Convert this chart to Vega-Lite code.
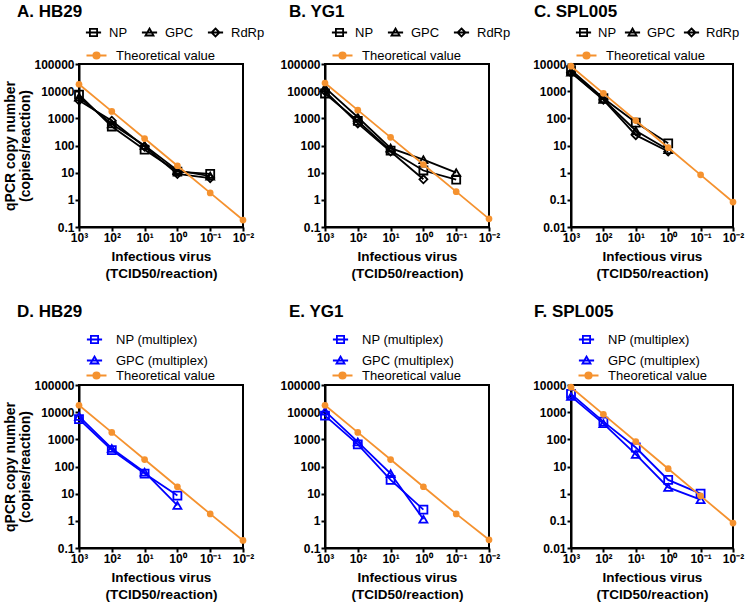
{
  "$schema": "https://vega.github.io/schema/vega-lite/v6.json",
  "padding": {"left": 2, "top": 2, "right": 2, "bottom": 2},
  "background": "white",
  "datasets": {
    "d": [
      {"p":"A","s":"NP","x":1000,"y":7500},{"p":"A","s":"NP","x":100,"y":500},{"p":"A","s":"NP","x":10,"y":70},{"p":"A","s":"NP","x":1,"y":11},{"p":"A","s":"NP","x":0.1,"y":9},
      {"p":"A","s":"GPC","x":1000,"y":6000},{"p":"A","s":"GPC","x":100,"y":620},{"p":"A","s":"GPC","x":10,"y":100},{"p":"A","s":"GPC","x":1,"y":12},{"p":"A","s":"GPC","x":0.1,"y":7.5},
      {"p":"A","s":"RdRp","x":1000,"y":4500},{"p":"A","s":"RdRp","x":100,"y":820},{"p":"A","s":"RdRp","x":10,"y":90},{"p":"A","s":"RdRp","x":1,"y":9},{"p":"A","s":"RdRp","x":0.1,"y":6.3},
      {"p":"A","s":"Theoretical value","x":1000,"y":18000},{"p":"A","s":"Theoretical value","x":100,"y":1800},{"p":"A","s":"Theoretical value","x":10,"y":180},{"p":"A","s":"Theoretical value","x":1,"y":18},{"p":"A","s":"Theoretical value","x":0.1,"y":1.8},{"p":"A","s":"Theoretical value","x":0.01,"y":0.18},
      {"p":"B","s":"NP","x":1000,"y":8200},{"p":"B","s":"NP","x":100,"y":800},{"p":"B","s":"NP","x":10,"y":65},{"p":"B","s":"NP","x":1,"y":12},{"p":"B","s":"NP","x":0.1,"y":5.5},
      {"p":"B","s":"GPC","x":1000,"y":13500},{"p":"B","s":"GPC","x":100,"y":1100},{"p":"B","s":"GPC","x":10,"y":80},{"p":"B","s":"GPC","x":1,"y":30},{"p":"B","s":"GPC","x":0.1,"y":10},
      {"p":"B","s":"RdRp","x":1000,"y":10000},{"p":"B","s":"RdRp","x":100,"y":650},{"p":"B","s":"RdRp","x":10,"y":60},{"p":"B","s":"RdRp","x":1,"y":5.7},
      {"p":"B","s":"Theoretical value","x":1000,"y":20000},{"p":"B","s":"Theoretical value","x":100,"y":2000},{"p":"B","s":"Theoretical value","x":10,"y":200},{"p":"B","s":"Theoretical value","x":1,"y":20},{"p":"B","s":"Theoretical value","x":0.1,"y":2},{"p":"B","s":"Theoretical value","x":0.01,"y":0.2},
      {"p":"C","s":"NP","x":1000,"y":6000},{"p":"C","s":"NP","x":100,"y":550},{"p":"C","s":"NP","x":10,"y":70},{"p":"C","s":"NP","x":1,"y":12},
      {"p":"C","s":"GPC","x":1000,"y":5000},{"p":"C","s":"GPC","x":100,"y":500},{"p":"C","s":"GPC","x":10,"y":35},{"p":"C","s":"GPC","x":1,"y":7},
      {"p":"C","s":"RdRp","x":1000,"y":4800},{"p":"C","s":"RdRp","x":100,"y":480},{"p":"C","s":"RdRp","x":10,"y":24},{"p":"C","s":"RdRp","x":1,"y":6},
      {"p":"C","s":"Theoretical value","x":1000,"y":8300},{"p":"C","s":"Theoretical value","x":100,"y":830},{"p":"C","s":"Theoretical value","x":10,"y":83},{"p":"C","s":"Theoretical value","x":1,"y":8.3},{"p":"C","s":"Theoretical value","x":0.1,"y":0.83},{"p":"C","s":"Theoretical value","x":0.01,"y":0.083},
      {"p":"D","s":"NP (multiplex)","x":1000,"y":5500},{"p":"D","s":"NP (multiplex)","x":100,"y":400},{"p":"D","s":"NP (multiplex)","x":10,"y":55},{"p":"D","s":"NP (multiplex)","x":1,"y":8.5},
      {"p":"D","s":"GPC (multiplex)","x":1000,"y":7000},{"p":"D","s":"GPC (multiplex)","x":100,"y":460},{"p":"D","s":"GPC (multiplex)","x":10,"y":62},{"p":"D","s":"GPC (multiplex)","x":1,"y":3.7},
      {"p":"D","s":"Theoretical value","x":1000,"y":18000},{"p":"D","s":"Theoretical value","x":100,"y":1800},{"p":"D","s":"Theoretical value","x":10,"y":180},{"p":"D","s":"Theoretical value","x":1,"y":18},{"p":"D","s":"Theoretical value","x":0.1,"y":1.8},{"p":"D","s":"Theoretical value","x":0.01,"y":0.19},
      {"p":"E","s":"NP (multiplex)","x":1000,"y":7500},{"p":"E","s":"NP (multiplex)","x":100,"y":650},{"p":"E","s":"NP (multiplex)","x":10,"y":32},{"p":"E","s":"NP (multiplex)","x":1,"y":2.6},
      {"p":"E","s":"GPC (multiplex)","x":1000,"y":11000},{"p":"E","s":"GPC (multiplex)","x":100,"y":800},{"p":"E","s":"GPC (multiplex)","x":10,"y":55},{"p":"E","s":"GPC (multiplex)","x":1,"y":1.15},
      {"p":"E","s":"Theoretical value","x":1000,"y":18000},{"p":"E","s":"Theoretical value","x":100,"y":1800},{"p":"E","s":"Theoretical value","x":10,"y":180},{"p":"E","s":"Theoretical value","x":1,"y":18},{"p":"E","s":"Theoretical value","x":0.1,"y":1.8},{"p":"E","s":"Theoretical value","x":0.01,"y":0.2},
      {"p":"F","s":"NP (multiplex)","x":1000,"y":4700},{"p":"F","s":"NP (multiplex)","x":100,"y":450},{"p":"F","s":"NP (multiplex)","x":10,"y":50},{"p":"F","s":"NP (multiplex)","x":1,"y":3.2},{"p":"F","s":"NP (multiplex)","x":0.1,"y":1.0},
      {"p":"F","s":"GPC (multiplex)","x":1000,"y":3800},{"p":"F","s":"GPC (multiplex)","x":100,"y":380},{"p":"F","s":"GPC (multiplex)","x":10,"y":28},{"p":"F","s":"GPC (multiplex)","x":1,"y":1.7},{"p":"F","s":"GPC (multiplex)","x":0.1,"y":0.6},
      {"p":"F","s":"Theoretical value","x":1000,"y":8300},{"p":"F","s":"Theoretical value","x":100,"y":830},{"p":"F","s":"Theoretical value","x":10,"y":83},{"p":"F","s":"Theoretical value","x":1,"y":8.3},{"p":"F","s":"Theoretical value","x":0.1,"y":0.83},{"p":"F","s":"Theoretical value","x":0.01,"y":0.083}
    ]
  },
  "data": {"name": "d"},
  "columns": 3,
  "bounds": "flush",
  "spacing": {"row": 158, "column": 82},
  "concat": [
    {
      "title": {"text": "A. HB29", "dx": -62, "offset": 5},
      "width": 164, "height": 163,
      "transform": [{"filter": "datum.p == 'A'"}],
      "resolve": {"scale": {"color": "independent"}},
      "layer": [
        {"transform": [{"filter": "datum.s != 'Theoretical value'"}],
         "layer": [
          {"mark": {"type": "line", "strokeWidth": 1.8, "color": "#000000"},
           "encoding": {
             "x": {"field": "x", "type": "quantitative", "scale": {"type": "log", "domain": [0.01, 1000], "reverse": true, "nice": false}, "axis": {"values": [1000,100,10,1,0.1,0.01], "labelExpr": "'10' + ['⁻²','⁻¹','⁰','¹','²','³'][round(log(datum.value)/LN10)+2]", "title": ["Infectious virus", "(TCID50/reaction)"]}},
             "y": {"field": "y", "type": "quantitative", "scale": {"type": "log", "domain": [0.1, 100000], "nice": false}, "axis": {"values": [0.1,1,10,100,1000,10000,100000], "format": "~g", "title": ["qPCR copy number", "(copies/reaction)"]}},
             "detail": {"field": "s"}}},
          {"mark": {"type": "point", "filled": false, "strokeWidth": 1.8, "size": 64, "opacity": 1},
           "encoding": {
             "x": {"field": "x", "type": "quantitative"},
             "y": {"field": "y", "type": "quantitative"},
             "shape": {"condition": [{"test": "datum.s == 'GPC'", "value": "triangle-up"}, {"test": "datum.s == 'RdRp'", "value": "diamond"}], "value": "square"},
             "color": {"field": "s", "type": "nominal", "scale": {"domain": ["NP","GPC","RdRp"], "range": ["#000000","#000000","#000000"]},
               "legend": {"title": null, "orient": "none", "legendX": 8, "legendY": -38, "columns": 3, "direction": "horizontal", "gridAlign": "none", "columnPadding": 10, "labelOffset": 9,
                 "encoding": {"symbols": {"shape": {"value": {"expr": "datum.value == 'NP' ? 'M-1.9,0H1.9M-0.9,-0.9H0.9V0.9H-0.9Z' : datum.value == 'GPC' ? 'M-1.9,0H1.9M0,-1L1,0.75H-1Z' : 'M-1.9,0H1.9M0,-1L1,0L0,1L-1,0Z'"}}, "fill": {"value": "transparent"}, "strokeWidth": {"value": 1.8}}}}}}}
         ]},
        {"transform": [{"filter": "datum.s == 'Theoretical value'"}],
         "layer": [
          {"mark": {"type": "line", "strokeWidth": 1.8, "color": "#F5922F"},
           "encoding": {"x": {"field": "x", "type": "quantitative"}, "y": {"field": "y", "type": "quantitative"}}},
          {"mark": {"type": "point", "filled": true, "shape": "circle", "size": 45, "opacity": 1},
           "encoding": {"x": {"field": "x", "type": "quantitative"}, "y": {"field": "y", "type": "quantitative"},
             "color": {"field": "s", "type": "nominal", "scale": {"range": ["#F5922F"]},
               "legend": {"title": null, "orient": "none", "legendX": 11, "legendY": -15, "labelOffset": 13,
                 "encoding": {"symbols": {"shape": {"value": "M-2.5,0H2.5M-0.8,0A0.8,0.8 0 1 0 0.8,0A0.8,0.8 0 1 0 -0.8,0"}, "stroke": {"value": "#F5922F"}, "strokeWidth": {"value": 1.8}}}}}}}
         ]}
      ]
    },
    {
      "title": {"text": "B. YG1", "dx": -36, "offset": 5},
      "width": 164, "height": 163,
      "transform": [{"filter": "datum.p == 'B'"}],
      "resolve": {"scale": {"color": "independent"}},
      "layer": [
        {"transform": [{"filter": "datum.s != 'Theoretical value'"}],
         "layer": [
          {"mark": {"type": "line", "strokeWidth": 1.8, "color": "#000000"},
           "encoding": {
             "x": {"field": "x", "type": "quantitative", "scale": {"type": "log", "domain": [0.01, 1000], "reverse": true, "nice": false}, "axis": {"values": [1000,100,10,1,0.1,0.01], "labelExpr": "'10' + ['⁻²','⁻¹','⁰','¹','²','³'][round(log(datum.value)/LN10)+2]", "title": ["Infectious virus", "(TCID50/reaction)"]}},
             "y": {"field": "y", "type": "quantitative", "scale": {"type": "log", "domain": [0.1, 100000], "nice": false}, "axis": {"values": [0.1,1,10,100,1000,10000,100000], "format": "~g", "title": null}},
             "detail": {"field": "s"}}},
          {"mark": {"type": "point", "filled": false, "strokeWidth": 1.8, "size": 64, "opacity": 1},
           "encoding": {
             "x": {"field": "x", "type": "quantitative"},
             "y": {"field": "y", "type": "quantitative"},
             "shape": {"condition": [{"test": "datum.s == 'GPC'", "value": "triangle-up"}, {"test": "datum.s == 'RdRp'", "value": "diamond"}], "value": "square"},
             "color": {"field": "s", "type": "nominal", "scale": {"domain": ["NP","GPC","RdRp"], "range": ["#000000","#000000","#000000"]},
               "legend": {"title": null, "orient": "none", "legendX": 8, "legendY": -38, "columns": 3, "direction": "horizontal", "gridAlign": "none", "columnPadding": 10, "labelOffset": 9,
                 "encoding": {"symbols": {"shape": {"value": {"expr": "datum.value == 'NP' ? 'M-1.9,0H1.9M-0.9,-0.9H0.9V0.9H-0.9Z' : datum.value == 'GPC' ? 'M-1.9,0H1.9M0,-1L1,0.75H-1Z' : 'M-1.9,0H1.9M0,-1L1,0L0,1L-1,0Z'"}}, "fill": {"value": "transparent"}, "strokeWidth": {"value": 1.8}}}}}}}
         ]},
        {"transform": [{"filter": "datum.s == 'Theoretical value'"}],
         "layer": [
          {"mark": {"type": "line", "strokeWidth": 1.8, "color": "#F5922F"},
           "encoding": {"x": {"field": "x", "type": "quantitative"}, "y": {"field": "y", "type": "quantitative"}}},
          {"mark": {"type": "point", "filled": true, "shape": "circle", "size": 45, "opacity": 1},
           "encoding": {"x": {"field": "x", "type": "quantitative"}, "y": {"field": "y", "type": "quantitative"},
             "color": {"field": "s", "type": "nominal", "scale": {"range": ["#F5922F"]},
               "legend": {"title": null, "orient": "none", "legendX": 11, "legendY": -15, "labelOffset": 13,
                 "encoding": {"symbols": {"shape": {"value": "M-2.5,0H2.5M-0.8,0A0.8,0.8 0 1 0 0.8,0A0.8,0.8 0 1 0 -0.8,0"}, "stroke": {"value": "#F5922F"}, "strokeWidth": {"value": 1.8}}}}}}}
         ]}
      ]
    },
    {
      "title": {"text": "C. SPL005", "dx": -37, "offset": 5},
      "width": 162, "height": 163,
      "transform": [{"filter": "datum.p == 'C'"}],
      "resolve": {"scale": {"color": "independent"}},
      "layer": [
        {"transform": [{"filter": "datum.s != 'Theoretical value'"}],
         "layer": [
          {"mark": {"type": "line", "strokeWidth": 1.8, "color": "#000000"},
           "encoding": {
             "x": {"field": "x", "type": "quantitative", "scale": {"type": "log", "domain": [0.01, 1000], "reverse": true, "nice": false}, "axis": {"values": [1000,100,10,1,0.1,0.01], "labelExpr": "'10' + ['⁻²','⁻¹','⁰','¹','²','³'][round(log(datum.value)/LN10)+2]", "title": ["Infectious virus", "(TCID50/reaction)"]}},
             "y": {"field": "y", "type": "quantitative", "scale": {"type": "log", "domain": [0.01, 10000], "nice": false}, "axis": {"values": [0.01,0.1,1,10,100,1000,10000], "format": "~g", "title": null}},
             "detail": {"field": "s"}}},
          {"mark": {"type": "point", "filled": false, "strokeWidth": 1.8, "size": 64, "opacity": 1},
           "encoding": {
             "x": {"field": "x", "type": "quantitative"},
             "y": {"field": "y", "type": "quantitative"},
             "shape": {"condition": [{"test": "datum.s == 'GPC'", "value": "triangle-up"}, {"test": "datum.s == 'RdRp'", "value": "diamond"}], "value": "square"},
             "color": {"field": "s", "type": "nominal", "scale": {"domain": ["NP","GPC","RdRp"], "range": ["#000000","#000000","#000000"]},
               "legend": {"title": null, "orient": "none", "legendX": 6, "legendY": -38, "columns": 3, "direction": "horizontal", "gridAlign": "none", "columnPadding": 4, "labelOffset": 8,
                 "encoding": {"symbols": {"shape": {"value": {"expr": "datum.value == 'NP' ? 'M-1.9,0H1.9M-0.9,-0.9H0.9V0.9H-0.9Z' : datum.value == 'GPC' ? 'M-1.9,0H1.9M0,-1L1,0.75H-1Z' : 'M-1.9,0H1.9M0,-1L1,0L0,1L-1,0Z'"}}, "fill": {"value": "transparent"}, "strokeWidth": {"value": 1.8}}}}}}}
         ]},
        {"transform": [{"filter": "datum.s == 'Theoretical value'"}],
         "layer": [
          {"mark": {"type": "line", "strokeWidth": 1.8, "color": "#F5922F"},
           "encoding": {"x": {"field": "x", "type": "quantitative"}, "y": {"field": "y", "type": "quantitative"}}},
          {"mark": {"type": "point", "filled": true, "shape": "circle", "size": 45, "opacity": 1},
           "encoding": {"x": {"field": "x", "type": "quantitative"}, "y": {"field": "y", "type": "quantitative"},
             "color": {"field": "s", "type": "nominal", "scale": {"range": ["#F5922F"]},
               "legend": {"title": null, "orient": "none", "legendX": 9, "legendY": -15, "labelOffset": 13,
                 "encoding": {"symbols": {"shape": {"value": "M-2.5,0H2.5M-0.8,0A0.8,0.8 0 1 0 0.8,0A0.8,0.8 0 1 0 -0.8,0"}, "stroke": {"value": "#F5922F"}, "strokeWidth": {"value": 1.8}}}}}}}
         ]}
      ]
    },
    {
      "title": {"text": "D. HB29", "dx": -62, "offset": 12},
      "width": 164, "height": 163,
      "transform": [{"filter": "datum.p == 'D'"}],
      "resolve": {"scale": {"color": "independent"}},
      "layer": [
        {"transform": [{"filter": "datum.s != 'Theoretical value'"}],
         "layer": [
          {"mark": {"type": "line", "strokeWidth": 1.8, "color": "#0000FF"},
           "encoding": {
             "x": {"field": "x", "type": "quantitative", "scale": {"type": "log", "domain": [0.01, 1000], "reverse": true, "nice": false}, "axis": {"values": [1000,100,10,1,0.1,0.01], "labelExpr": "'10' + ['⁻²','⁻¹','⁰','¹','²','³'][round(log(datum.value)/LN10)+2]", "title": ["Infectious virus", "(TCID50/reaction)"]}},
             "y": {"field": "y", "type": "quantitative", "scale": {"type": "log", "domain": [0.1, 100000], "nice": false}, "axis": {"values": [0.1,1,10,100,1000,10000,100000], "format": "~g", "title": ["qPCR copy number", "(copies/reaction)"]}},
             "detail": {"field": "s"}}},
          {"mark": {"type": "point", "filled": false, "strokeWidth": 1.8, "size": 64, "opacity": 1},
           "encoding": {
             "x": {"field": "x", "type": "quantitative"},
             "y": {"field": "y", "type": "quantitative"},
             "shape": {"condition": {"test": "datum.s == 'GPC (multiplex)'", "value": "triangle-up"}, "value": "square"},
             "color": {"field": "s", "type": "nominal", "scale": {"domain": ["NP (multiplex)","GPC (multiplex)"], "range": ["#0000FF","#0000FF"]},
               "legend": {"title": null, "orient": "none", "legendX": 9, "legendY": -52, "columns": 1, "direction": "vertical", "rowPadding": 5, "labelOffset": 15,
                 "encoding": {"symbols": {"shape": {"value": {"expr": "datum.value == 'NP (multiplex)' ? 'M-1.9,0H1.9M-0.9,-0.9H0.9V0.9H-0.9Z' : 'M-1.9,0H1.9M0,-1L1,0.75H-1Z'"}}, "fill": {"value": "transparent"}, "strokeWidth": {"value": 1.8}}}}}}}
         ]},
        {"transform": [{"filter": "datum.s == 'Theoretical value'"}],
         "layer": [
          {"mark": {"type": "line", "strokeWidth": 1.8, "color": "#F5922F"},
           "encoding": {"x": {"field": "x", "type": "quantitative"}, "y": {"field": "y", "type": "quantitative"}}},
          {"mark": {"type": "point", "filled": true, "shape": "circle", "size": 45, "opacity": 1},
           "encoding": {"x": {"field": "x", "type": "quantitative"}, "y": {"field": "y", "type": "quantitative"},
             "color": {"field": "s", "type": "nominal", "scale": {"range": ["#F5922F"]},
               "legend": {"title": null, "orient": "none", "legendX": 11, "legendY": -16, "labelOffset": 13,
                 "encoding": {"symbols": {"shape": {"value": "M-2.5,0H2.5M-0.8,0A0.8,0.8 0 1 0 0.8,0A0.8,0.8 0 1 0 -0.8,0"}, "stroke": {"value": "#F5922F"}, "strokeWidth": {"value": 1.8}}}}}}}
         ]}
      ]
    },
    {
      "title": {"text": "E. YG1", "dx": -36, "offset": 12},
      "width": 164, "height": 163,
      "transform": [{"filter": "datum.p == 'E'"}],
      "resolve": {"scale": {"color": "independent"}},
      "layer": [
        {"transform": [{"filter": "datum.s != 'Theoretical value'"}],
         "layer": [
          {"mark": {"type": "line", "strokeWidth": 1.8, "color": "#0000FF"},
           "encoding": {
             "x": {"field": "x", "type": "quantitative", "scale": {"type": "log", "domain": [0.01, 1000], "reverse": true, "nice": false}, "axis": {"values": [1000,100,10,1,0.1,0.01], "labelExpr": "'10' + ['⁻²','⁻¹','⁰','¹','²','³'][round(log(datum.value)/LN10)+2]", "title": ["Infectious virus", "(TCID50/reaction)"]}},
             "y": {"field": "y", "type": "quantitative", "scale": {"type": "log", "domain": [0.1, 100000], "nice": false}, "axis": {"values": [0.1,1,10,100,1000,10000,100000], "format": "~g", "title": null}},
             "detail": {"field": "s"}}},
          {"mark": {"type": "point", "filled": false, "strokeWidth": 1.8, "size": 64, "opacity": 1},
           "encoding": {
             "x": {"field": "x", "type": "quantitative"},
             "y": {"field": "y", "type": "quantitative"},
             "shape": {"condition": {"test": "datum.s == 'GPC (multiplex)'", "value": "triangle-up"}, "value": "square"},
             "color": {"field": "s", "type": "nominal", "scale": {"domain": ["NP (multiplex)","GPC (multiplex)"], "range": ["#0000FF","#0000FF"]},
               "legend": {"title": null, "orient": "none", "legendX": 9, "legendY": -52, "columns": 1, "direction": "vertical", "rowPadding": 5, "labelOffset": 15,
                 "encoding": {"symbols": {"shape": {"value": {"expr": "datum.value == 'NP (multiplex)' ? 'M-1.9,0H1.9M-0.9,-0.9H0.9V0.9H-0.9Z' : 'M-1.9,0H1.9M0,-1L1,0.75H-1Z'"}}, "fill": {"value": "transparent"}, "strokeWidth": {"value": 1.8}}}}}}}
         ]},
        {"transform": [{"filter": "datum.s == 'Theoretical value'"}],
         "layer": [
          {"mark": {"type": "line", "strokeWidth": 1.8, "color": "#F5922F"},
           "encoding": {"x": {"field": "x", "type": "quantitative"}, "y": {"field": "y", "type": "quantitative"}}},
          {"mark": {"type": "point", "filled": true, "shape": "circle", "size": 45, "opacity": 1},
           "encoding": {"x": {"field": "x", "type": "quantitative"}, "y": {"field": "y", "type": "quantitative"},
             "color": {"field": "s", "type": "nominal", "scale": {"range": ["#F5922F"]},
               "legend": {"title": null, "orient": "none", "legendX": 11, "legendY": -16, "labelOffset": 13,
                 "encoding": {"symbols": {"shape": {"value": "M-2.5,0H2.5M-0.8,0A0.8,0.8 0 1 0 0.8,0A0.8,0.8 0 1 0 -0.8,0"}, "stroke": {"value": "#F5922F"}, "strokeWidth": {"value": 1.8}}}}}}}
         ]}
      ]
    },
    {
      "title": {"text": "F. SPL005", "dx": -37, "offset": 12},
      "width": 162, "height": 163,
      "transform": [{"filter": "datum.p == 'F'"}],
      "resolve": {"scale": {"color": "independent"}},
      "layer": [
        {"transform": [{"filter": "datum.s != 'Theoretical value'"}],
         "layer": [
          {"mark": {"type": "line", "strokeWidth": 1.8, "color": "#0000FF"},
           "encoding": {
             "x": {"field": "x", "type": "quantitative", "scale": {"type": "log", "domain": [0.01, 1000], "reverse": true, "nice": false}, "axis": {"values": [1000,100,10,1,0.1,0.01], "labelExpr": "'10' + ['⁻²','⁻¹','⁰','¹','²','³'][round(log(datum.value)/LN10)+2]", "title": ["Infectious virus", "(TCID50/reaction)"]}},
             "y": {"field": "y", "type": "quantitative", "scale": {"type": "log", "domain": [0.01, 10000], "nice": false}, "axis": {"values": [0.01,0.1,1,10,100,1000,10000], "format": "~g", "title": null}},
             "detail": {"field": "s"}}},
          {"mark": {"type": "point", "filled": false, "strokeWidth": 1.8, "size": 64, "opacity": 1},
           "encoding": {
             "x": {"field": "x", "type": "quantitative"},
             "y": {"field": "y", "type": "quantitative"},
             "shape": {"condition": {"test": "datum.s == 'GPC (multiplex)'", "value": "triangle-up"}, "value": "square"},
             "color": {"field": "s", "type": "nominal", "scale": {"domain": ["NP (multiplex)","GPC (multiplex)"], "range": ["#0000FF","#0000FF"]},
               "legend": {"title": null, "orient": "none", "legendX": 9, "legendY": -52, "columns": 1, "direction": "vertical", "rowPadding": 5, "labelOffset": 15,
                 "encoding": {"symbols": {"shape": {"value": {"expr": "datum.value == 'NP (multiplex)' ? 'M-1.9,0H1.9M-0.9,-0.9H0.9V0.9H-0.9Z' : 'M-1.9,0H1.9M0,-1L1,0.75H-1Z'"}}, "fill": {"value": "transparent"}, "strokeWidth": {"value": 1.8}}}}}}}
         ]},
        {"transform": [{"filter": "datum.s == 'Theoretical value'"}],
         "layer": [
          {"mark": {"type": "line", "strokeWidth": 1.8, "color": "#F5922F"},
           "encoding": {"x": {"field": "x", "type": "quantitative"}, "y": {"field": "y", "type": "quantitative"}}},
          {"mark": {"type": "point", "filled": true, "shape": "circle", "size": 45, "opacity": 1},
           "encoding": {"x": {"field": "x", "type": "quantitative"}, "y": {"field": "y", "type": "quantitative"},
             "color": {"field": "s", "type": "nominal", "scale": {"range": ["#F5922F"]},
               "legend": {"title": null, "orient": "none", "legendX": 11, "legendY": -16, "labelOffset": 13,
                 "encoding": {"symbols": {"shape": {"value": "M-2.5,0H2.5M-0.8,0A0.8,0.8 0 1 0 0.8,0A0.8,0.8 0 1 0 -0.8,0"}, "stroke": {"value": "#F5922F"}, "strokeWidth": {"value": 1.8}}}}}}}
         ]}
      ]
    }
  ],
  "config": {
    "font": "Liberation Sans",
    "view": {"stroke": "#000000", "strokeWidth": 2},
    "title": {"anchor": "start", "frame": "group", "font": "Liberation Sans", "fontSize": 17, "fontWeight": "bold", "color": "#000000"},
    "axis": {"grid": false, "domainColor": "#000000", "domainWidth": 2, "tickColor": "#000000", "tickWidth": 2, "tickSize": 4, "labelColor": "#000000", "labelFont": "Liberation Sans", "labelFontWeight": "bold", "labelFontSize": 12, "labelOverlap": false, "labelBound": false, "labelFlush": false, "titleFont": "Liberation Sans", "titleFontWeight": "bold", "titleColor": "#000000"},
    "axisY": {"titleFontSize": 14, "titlePadding": 1, "titleLineHeight": 15, "labelPadding": 1},
    "axisX": {"titleFontSize": 13.5, "titlePadding": 6, "titleLineHeight": 17, "labelPadding": 1},
    "legend": {"labelFont": "Liberation Sans", "labelFontSize": 13, "labelColor": "#000000", "padding": 0, "symbolSize": 64, "symbolStrokeWidth": 1.8}
  }
}
